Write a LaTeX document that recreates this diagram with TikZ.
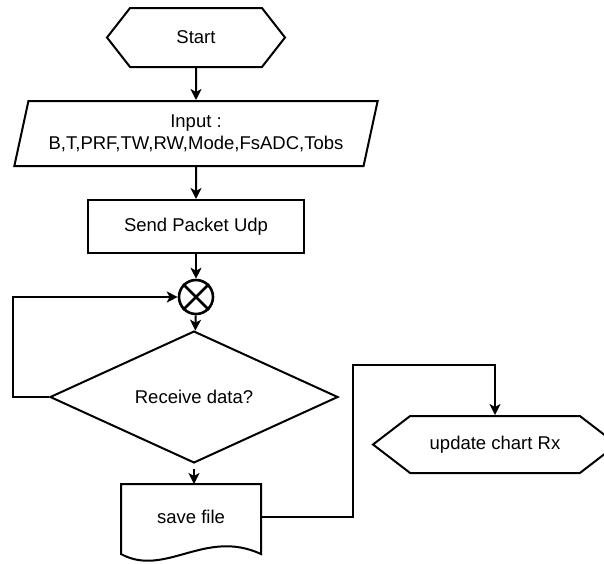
\documentclass[tikz,border=0pt]{standalone}
\usepackage{fontspec}
\setmainfont{Liberation Sans}
\usetikzlibrary{arrows.meta, positioning, shapes.geometric, shapes.symbols,
                calc}

\begin{document}
\begin{tikzpicture}[
  x=1pt, y=-1pt,
  >={Stealth[length=11pt, width=11pt, inset=3pt]},
  line width=2pt,
  every node/.style={font=\fontsize{18.5}{22}\selectfont},
  hexa/.style={draw, shape=signal, signal to=west and east, inner sep=0pt},
  io/.style={draw, trapezium, trapezium left angle=73, trapezium right angle=107,
             trapezium stretches=true, minimum width=364pt, minimum height=65pt,
             inner sep=2pt, align=center},
  proc/.style={draw, rectangle, minimum width=216pt, minimum height=53pt},
  decision/.style={draw, diamond, minimum width=288pt, minimum height=100pt,
                   inner sep=0pt},
  doc/.style={rectangle, minimum width=138pt, minimum height=64pt},
  junction/.style={draw, circle, minimum size=34pt, inner sep=0pt, line width=2.6pt},
  arrow/.style={->},
]
\useasboundingbox (0,0) rectangle (604,563);

\node[hexa, minimum width=178pt, minimum height=59pt,
      signal pointer angle=104] (start) at (196,37.5) {Start};
\node[io] (input) at (196,133.5) {Input :\\B,T,PRF,TW,RW,Mode,FsADC,Tobs};
\node[proc] (send) at (196,226.5) {Send Packet Udp};
\node[junction] (junc) at (196,297) {};
\node[decision] (dec) at (194,397) {Receive data?};
\node[doc] (save) at (191,517) {save file};
\node[hexa, minimum width=244pt, minimum height=57pt,
      signal pointer angle=75] (upd) at (495,444.5) {update chart Rx};

% cross inside the junction
\draw[line width=2.6pt] (junc.45) -- (junc.225) (junc.135) -- (junc.315);

% wavy document outline
\draw (save.south west) -- (save.north west) -- (save.north east)
  -- ([yshift=-4pt]save.south east)
  .. controls (205,528) and (165,578) .. ([yshift=-4pt]save.south west)
  -- (save.south west);

\coordinate (loop) at (13,397);
\coordinate (bend) at (353,365);

\foreach \a/\b in {start/input, input/send, send/junc, junc/dec}
  \draw[arrow] (\a) -- (\b);
\draw[arrow, shorten <=5pt] (dec.south) -- (dec.south |- save.north);
\draw[arrow] (dec.west) -- (loop) |- (junc.west);
\draw[arrow] (save.east) -| (bend) -| (upd.north);
\end{tikzpicture}
\end{document}
